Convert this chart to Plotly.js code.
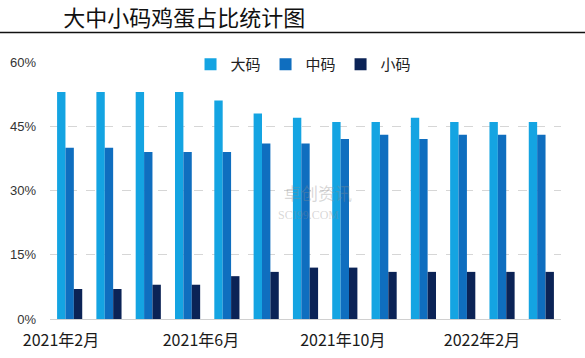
<!DOCTYPE html>
<html>
<head>
<meta charset="utf-8">
<script src="https://cdn.plot.ly/plotly-3.0.1.min.js"></script>
<style>html,body{margin:0;padding:0;background:#fff;}#chart{width:585px;height:358px;}</style>
</head>
<body>
<div id="chart"></div>
<script>
// Months (categories)
var months = ['2021-02','2021-03','2021-04','2021-05','2021-06','2021-07','2021-08',
              '2021-09','2021-10','2021-11','2021-12','2022-01','2022-02'];
// Share of each egg size (%)
var large  = [53, 53, 53, 53, 51, 48, 47, 46, 46, 47, 46, 46, 46];
var medium = [40, 40, 39, 39, 39, 41, 41, 42, 43, 42, 43, 43, 43];
var small  = [7, 7, 8, 8, 10, 11, 12, 12, 11, 11, 11, 11, 11];
var seriesNames = ['大码', '中码', '小码'];
// Tick labels as printed under the axis, and where they sit along the category axis
var tickLabels = ['2021年2月', '2021年6月', '2021年10月', '2022年2月'];
var tickPos = [-0.22, 3.34, 6.95, 10.49];
var yTicks = [0, 15, 30, 45, 60];
var yTickLabels = ['0%', '15%', '30%', '45%', '60%'];

var colors = ['#14a4e2', '#0f6ebf', '#0b2356'];
var cjk = '"Noto Sans CJK SC", "Noto Sans", sans-serif';

var traces = [large, medium, small].map(function (vals, i) {
  return {
    type: 'bar',
    x: months,
    y: vals,
    name: seriesNames[i],
    marker: {color: colors[i], line: {width: 0}},
    hoverinfo: 'none'
  };
});

var layout = {
  width: 585, height: 358,
  margin: {l: 50, r: 24, t: 62, b: 39},
  paper_bgcolor: '#ffffff', plot_bgcolor: '#ffffff',
  barmode: 'group', bargap: 0.36, bargroupgap: 0,
  title: {
    text: '大中小码鸡蛋占比统计图',
    font: {family: cjk, size: 22, color: '#111'},
    xref: 'container', x: 0.108, xanchor: 'left',
    yref: 'container', y: 0.95, yanchor: 'middle'
  },
  showlegend: true,
  legend: {
    orientation: 'h', x: 0.275, xanchor: 'left', y: 0.99, yanchor: 'middle',
    bgcolor: 'rgba(0,0,0,0)', font: {family: cjk, size: 15, color: '#222'},
    itemwidth: 30, tracegroupgap: 0
  },
  xaxis: {
    type: 'category',
    range: [-0.5, 12.5],
    tickmode: 'array', tickvals: tickPos, ticktext: tickLabels,
    ticks: '', showgrid: false, zeroline: false,
    showline: true, linecolor: '#d0d0d0', linewidth: 1,
    ticklabelstandoff: 7,
    tickfont: {family: cjk, size: 16, color: '#1a1a1a'},
    fixedrange: true
  },
  yaxis: {
    range: [0, 60],
    tickmode: 'array', tickvals: yTicks, ticktext: yTickLabels,
    showgrid: true, gridcolor: '#d6d6d6', griddash: 'dash', gridwidth: 1,
    zeroline: false, showline: false, ticks: '',
    ticklabelstandoff: 13,
    tickfont: {family: '"Liberation Sans", Arial, sans-serif', size: 13, color: '#333'},
    fixedrange: true
  },
  shapes: [{
    type: 'line', xref: 'paper', yref: 'paper',
    x0: -0.1, x1: 1.05, y0: 1.115, y1: 1.115,
    line: {color: '#111', width: 1.5}
  }],
  annotations: [
    {text: '卓创资讯', xref: 'paper', yref: 'paper', x: 0.524, y: 0.494, showarrow: false,
     font: {family: cjk, size: 17, color: 'rgba(140,140,140,0.35)'}},
    {text: 'SCI99.COM', xref: 'paper', yref: 'paper', x: 0.505, y: 0.405, showarrow: false,
     font: {family: '"Liberation Serif", serif', size: 12, color: 'rgba(140,140,140,0.35)'}}
  ]
};

Plotly.newPlot('chart', traces, layout, {displayModeBar: false, staticPlot: true});
</script>
</body>
</html>
